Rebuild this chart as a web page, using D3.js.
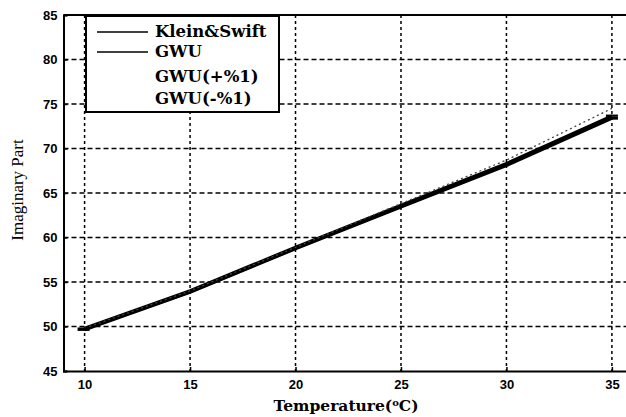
<!DOCTYPE html>
<html><head><meta charset="utf-8">
<script src="https://cdn.jsdelivr.net/npm/d3@7"></script>
<style>body{margin:0;background:#fff}svg{display:block}</style>
</head><body>
<svg id="c" width="626" height="417"></svg>
<script>
const temps = [10, 15, 20, 25, 30, 35];
const kleinSwift = [49.8, 54.0, 58.9, 63.8, 68.7, 74.5];
const gwu = [49.7, 53.9, 58.8, 63.5, 68.2, 73.5];
const gwuPlus = [49.85, 54.05, 58.95, 63.65, 68.35, 73.7];
const gwuMinus = [49.6, 53.8, 58.7, 63.4, 68.05, 73.35];
const xTicks = [10, 15, 20, 25, 30, 35];
const yTicks = [45, 50, 55, 60, 65, 70, 75, 80, 85];
const yTickLabels = ["45", "50", "55", "60", "65", "70", "75", "80", "85"];
const legendLabels = ["Klein&Swift", "GWU", "GWU(+%1)", "GWU(-%1)"];

const svg = d3.select("#c");
const L = 63.5, T = 15, B = 371, R = 633;
const x = d3.scaleLinear().domain([9, 36]).range([L, R]);
const y = d3.scaleLinear().domain([45, 85]).range([B, T]);
const wideSerif = "'DejaVu Serif', serif";
const serif = "'Liberation Serif', serif";

// grid
const g = svg.append("g");
g.selectAll("line.vx").data(xTicks).join("line").attr("class", "vx")
  .attr("x1", d => x(d)).attr("x2", d => x(d)).attr("y1", T).attr("y2", B)
  .attr("stroke", "#000").attr("stroke-width", 1.5).attr("stroke-dasharray", "3,3");
g.selectAll("line.hy").data(yTicks.slice(1, -1)).join("line").attr("class", "hy")
  .attr("x1", L).attr("x2", R).attr("y1", d => y(d)).attr("y2", d => y(d))
  .attr("stroke", "#000").attr("stroke-width", 1.5).attr("stroke-dasharray", "5,3");

// axes
const xAxis = d3.axisBottom(x).tickValues(xTicks).tickSize(-4).tickPadding(9);
const yAxis = d3.axisLeft(y).tickValues(yTicks).tickFormat((d, i) => yTickLabels[i]).tickSize(-4).tickPadding(6);
const gx = svg.append("g").attr("transform", `translate(0,${B})`).call(xAxis);
const gy = svg.append("g").attr("transform", `translate(${L},0)`).call(yAxis);
[gx, gy].forEach(a => {
  a.select(".domain").attr("stroke", "#000").attr("stroke-width", 2);
  a.selectAll("line").attr("stroke", "#000").attr("stroke-width", 1.5);
  a.selectAll("text").attr("font-family", "'Liberation Sans', Arial, sans-serif")
    .attr("font-weight", "bold").attr("font-size", 13).attr("fill", "#000");
});
svg.append("line").attr("x1", L).attr("x2", R).attr("y1", T).attr("y2", T)
  .attr("stroke", "#000").attr("stroke-width", 2);

// series
const line = d3.line().x((d, i) => x(temps[i])).y(d => y(d));
svg.append("path").datum(gwuMinus).attr("d", line).attr("fill", "none")
  .attr("stroke", "#000").attr("stroke-width", 2.5);
svg.append("path").datum(gwuPlus).attr("d", line).attr("fill", "none")
  .attr("stroke", "#000").attr("stroke-width", 2.5);
svg.append("path").datum(gwu).attr("d", line).attr("fill", "none")
  .attr("stroke", "#000").attr("stroke-width", 3);
svg.append("path").datum(kleinSwift).attr("d", line).attr("fill", "none")
  .attr("stroke", "#444").attr("stroke-width", 1.3).attr("stroke-dasharray", "2,3");

// end markers
const last = temps.length - 1;
svg.selectAll("line.m").data([gwuPlus, gwuMinus, gwu]).join("line").attr("class", "m")
  .attr("x1", x(temps[last]) - 6).attr("x2", x(temps[last]) + 6)
  .attr("y1", d => y(d[last])).attr("y2", d => y(d[last]))
  .attr("stroke", "#000").attr("stroke-width", 2);
svg.selectAll("line.m0").data([gwu]).join("line").attr("class", "m0")
  .attr("x1", x(temps[0]) - 7).attr("x2", x(temps[0]) + 5)
  .attr("y1", d => y(d[0])).attr("y2", d => y(d[0]))
  .attr("stroke", "#000").attr("stroke-width", 3.5);

// legend
const lg = svg.append("g");
lg.append("rect").attr("x", 86).attr("y", 16).attr("width", 193).attr("height", 96)
  .attr("fill", "#fff").attr("stroke", "#000").attr("stroke-width", 2);
const rowsY = [32, 52, 77, 99];
lg.selectAll("text").data(legendLabels).join("text")
  .attr("x", 155).attr("y", (d, i) => rowsY[i] + 5).text(d => d)
  .attr("font-family", wideSerif).attr("font-weight", "bold")
  .attr("font-size", 16.5).attr("fill", "#000");
lg.selectAll("line.ls").data([0, 1]).join("line").attr("class", "ls")
  .attr("x1", 97).attr("x2", 148).attr("y1", d => rowsY[d]).attr("y2", d => rowsY[d])
  .attr("stroke", "#000").attr("stroke-width", 1.5);

// titles
svg.append("text").attr("x", 346).attr("y", 411).attr("text-anchor", "middle")
  .attr("font-family", wideSerif).attr("font-weight", "bold")
  .attr("font-size", 15.5).attr("fill", "#000")
  .html('Temperature(<tspan dy="-5" font-size="10">o</tspan><tspan dy="5">C)</tspan>');
svg.append("text").attr("transform", "translate(23,190) rotate(-90)").attr("text-anchor", "middle")
  .attr("font-family", serif)
  .attr("font-size", 17).attr("fill", "#000").text("Imaginary Part");
</script>
</body></html>
